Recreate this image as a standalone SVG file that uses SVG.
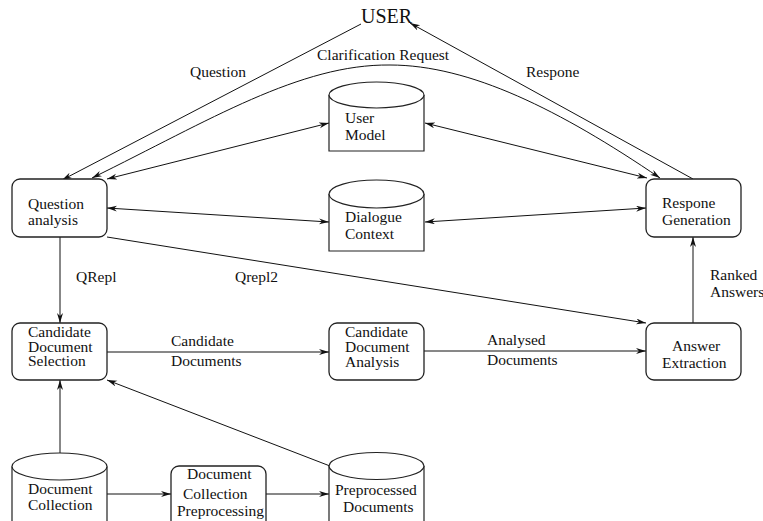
<svg xmlns="http://www.w3.org/2000/svg" width="763" height="521" viewBox="0 0 763 521">
<style>
text{font-family:"Liberation Serif","Times New Roman",serif;font-size:15.5px;fill:#111}
.box{fill:#fff;stroke:#222;stroke-width:1.3}
.cyl{fill:#fff;stroke:#222;stroke-width:1.2}
.ln{fill:none;stroke:#111;stroke-width:1}
</style>
<defs>
<marker id="ah" markerUnits="userSpaceOnUse" markerWidth="11" markerHeight="7" refX="10" refY="3" orient="auto-start-reverse">
<path d="M0,0 L10,3 L0,6 L3,3 Z" fill="#111"/>
</marker>
</defs>
<rect width="763" height="521" fill="#fff"/>

<g id="connectors">
<line class="ln" x1="361" y1="24" x2="62" y2="180" marker-end="url(#ah)"/>
<line class="ln" x1="693" y1="179" x2="410" y2="23" marker-end="url(#ah)"/>
<path class="ln" d="M92,178 C210,120 300,64 390,65 C470,65 560,110 660,178" marker-start="url(#ah)" marker-end="url(#ah)"/>
<line class="ln" x1="107" y1="179" x2="329" y2="123" marker-start="url(#ah)" marker-end="url(#ah)"/>
<line class="ln" x1="425" y1="123" x2="647" y2="178" marker-start="url(#ah)" marker-end="url(#ah)"/>
<line class="ln" x1="107" y1="208" x2="329" y2="222" marker-start="url(#ah)" marker-end="url(#ah)"/>
<line class="ln" x1="425" y1="222" x2="646" y2="208" marker-start="url(#ah)" marker-end="url(#ah)"/>
<line class="ln" x1="60" y1="237" x2="60" y2="323" marker-end="url(#ah)"/>
<line class="ln" x1="107" y1="237" x2="646" y2="323" marker-end="url(#ah)"/>
<line class="ln" x1="107" y1="352" x2="329" y2="352" marker-end="url(#ah)"/>
<line class="ln" x1="424" y1="351" x2="646" y2="351" marker-end="url(#ah)"/>
<line class="ln" x1="693" y1="323" x2="693" y2="237" marker-end="url(#ah)"/>
<line class="ln" x1="60" y1="453" x2="60" y2="380" marker-end="url(#ah)"/>
<line class="ln" x1="330" y1="466" x2="107" y2="380" marker-end="url(#ah)"/>
<line class="ln" x1="107" y1="494" x2="171" y2="494" marker-end="url(#ah)"/>
<line class="ln" x1="266" y1="494" x2="329" y2="494" marker-end="url(#ah)"/>
<text x="190" y="77">Question</text>
<text x="317" y="60">Clarification Request</text>
<text x="526" y="77">Respone</text>
<text x="76" y="282">QRepl</text>
<text x="235" y="282">Qrepl2</text>
<text x="171" y="346">Candidate</text>
<text x="171" y="366">Documents</text>
<text x="487" y="345">Analysed</text>
<text x="487" y="365">Documents</text>
<text x="710" y="280">Ranked</text>
<text x="710" y="297">Answers</text>
</g>

<g id="user">
<text x="361" y="23" style="font-size:20px">USER</text>
</g>

<g id="user-model">
<path class="cyl" d="M329,95 L329,151 L424,151 L424,95"/>
<ellipse class="cyl" cx="376.5" cy="95" rx="47.5" ry="13"/>
<text x="345" y="123">User</text>
<text x="345" y="140">Model</text>
</g>

<g id="dialogue-context">
<path class="cyl" d="M329,194 L329,251 L424,251 L424,194"/>
<ellipse class="cyl" cx="376.5" cy="194" rx="47.5" ry="14"/>
<text x="345" y="222">Dialogue</text>
<text x="345" y="239">Context</text>
</g>

<g id="question-analysis">
<rect class="box" x="12" y="179" width="95" height="58" rx="8"/>
<text x="28" y="209">Question</text>
<text x="28" y="225">analysis</text>
</g>

<g id="respone-generation">
<rect class="box" x="646" y="179" width="95" height="58" rx="8"/>
<text x="662" y="208">Respone</text>
<text x="662" y="225">Generation</text>
</g>

<g id="candidate-document-selection">
<rect class="box" x="12" y="323" width="95" height="57" rx="8"/>
<text x="28" y="337">Candidate</text>
<text x="28" y="351.5">Document</text>
<text x="28" y="366">Selection</text>
</g>

<g id="candidate-document-analysis">
<rect class="box" x="329" y="323" width="95" height="57" rx="8"/>
<text x="345" y="337">Candidate</text>
<text x="345" y="352">Document</text>
<text x="345" y="367">Analysis</text>
</g>

<g id="answer-extraction">
<rect class="box" x="646" y="323" width="95" height="57" rx="8"/>
<text x="672" y="351">Answer</text>
<text x="662" y="368">Extraction</text>
</g>

<g id="document-collection">
<path class="cyl" d="M12,466.5 L12,530 L107,530 L107,466.5"/>
<ellipse class="cyl" cx="59.5" cy="466.5" rx="47.5" ry="13.5"/>
<text x="28" y="494">Document</text>
<text x="28" y="510">Collection</text>
</g>

<g id="document-collection-preprocessing">
<rect class="box" x="171" y="466" width="95" height="64" rx="8"/>
<text x="187" y="479">Document</text>
<text x="183" y="499">Collection</text>
<text x="177" y="516">Preprocessing</text>
</g>

<g id="preprocessed-documents">
<path class="cyl" d="M329,466 L329,530 L424,530 L424,466"/>
<ellipse class="cyl" cx="376.5" cy="466" rx="47.5" ry="13.5"/>
<text x="335" y="495">Preprocessed</text>
<text x="343" y="512">Documents</text>
</g>
</svg>
